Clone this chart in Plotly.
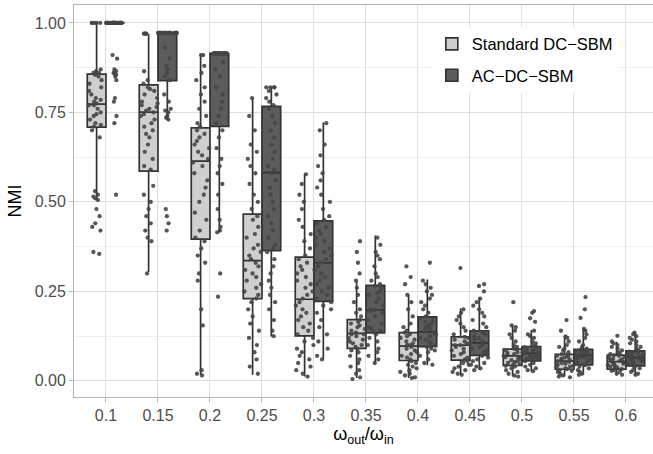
import plotly.graph_objects as go

FONT = "Liberation Sans, Arial, sans-serif"

categories = ["0.1", "0.15", "0.2", "0.25", "0.3", "0.35", "0.4", "0.45", "0.5", "0.55", "0.6"]
series_names = ["Standard DC\u2212SBM", "AC\u2212DC\u2212SBM"]
y_tick_vals = [0, 0.25, 0.5, 0.75, 1.0]
y_tick_text = ["0.00", "0.25", "0.50", "0.75", "1.00"]

# box statistics
std_q1 = [0.709, 0.586, 0.396, 0.230, 0.126, 0.091, 0.057, 0.058, 0.043, 0.0325, 0.033]
std_median = [0.773, 0.751, 0.614, 0.336, 0.228, 0.1325, 0.097, 0.100, 0.070, 0.055, 0.054]
std_q3 = [0.857, 0.827, 0.707, 0.466, 0.346, 0.171, 0.135, 0.123, 0.089, 0.074, 0.072]
std_low = [0.507, 0.304, 0.017, 0.017, 0.012, 0.008, 0.008, 0.017, 0.012, 0.012, 0.017]
std_high = [1.0, 0.970, 0.912, 0.790, 0.577, 0.279, 0.241, 0.202, 0.157, 0.125, 0.109]

ac_q1 = [1.0, 0.839, 0.711, 0.364, 0.222, 0.134, 0.0955, 0.071, 0.056, 0.045, 0.042]
ac_median = [1.0, 0.972, 0.915, 0.582, 0.330, 0.198, 0.137, 0.106, 0.077, 0.071, 0.065]
ac_q3 = [1.0, 0.972, 0.915, 0.767, 0.447, 0.267, 0.179, 0.140, 0.096, 0.088, 0.084]
ac_low = [1.0, 0.730, 0.415, 0.124, 0.061, 0.049, 0.044, 0.031, 0.027, 0.017, 0.017]
ac_high = [1.0, 0.972, 0.915, 0.822, 0.722, 0.406, 0.283, 0.232, 0.142, 0.146, 0.137]

# individual runs (estimated from the jittered dots), one list per category
std_points = [
    [1, 1, 1, 1, 1, .87, .865, .86, .86, .855, .85, .84, .83, .82, .81, .80, .79, .785, .78, .775,
     .77, .77, .76, .75, .745, .74, .73, .72, .715, .71, .70, .68, .53, .52, .515, .51, .505,
     .48, .46, .44, .43, .42, .36, .355],
    [.97, .97, .97, .97, .865, .84, .83, .82, .815, .81, .80, .79, .78, .775, .77, .765, .76, .755,
     .75, .745, .74, .73, .72, .71, .70, .69, .68, .66, .64, .62, .60, .59, .545, .52, .50, .48,
     .46, .44, .42, .40, .39, .30],
    [.91, .91, .88, .86, .84, .82, .80, .78, .76, .74, .72, .71, .70, .69, .68, .67, .66, .65, .64,
     .63, .62, .61, .60, .58, .56, .54, .52, .50, .47, .45, .42, .40, .39, .37, .35, .33, .30, .28,
     .20, .155, .03, .02, .015],
    [.79, .74, .70, .66, .64, .62, .60, .58, .55, .52, .50, .48, .46, .45, .43, .41, .40, .38, .37,
     .36, .35, .34, .33, .32, .31, .30, .29, .28, .27, .26, .25, .24, .23, .22, .20, .18, .16, .14,
     .12, .10, .08, .06, .04, .02],
    [.577, .55, .52, .50, .48, .45, .43, .41, .39, .37, .35, .34, .33, .32, .31, .30, .29, .28, .27,
     .26, .25, .24, .23, .22, .21, .20, .19, .18, .17, .16, .15, .14, .13, .12, .11, .10, .09, .08,
     .07, .06, .05, .04, .03, .02, .012],
    [.39, .36, .33, .30, .28, .26, .24, .22, .20, .19, .18, .17, .165, .16, .155, .15, .145, .14,
     .135, .13, .13, .125, .12, .115, .11, .105, .10, .095, .09, .085, .08, .07, .06, .05, .04,
     .03, .02, .01, .005],
    [.32, .29, .27, .24, .22, .20, .18, .16, .15, .14, .135, .13, .125, .12, .115, .11, .105, .10,
     .10, .095, .09, .085, .08, .075, .07, .065, .06, .055, .05, .045, .04, .035, .03, .025, .02,
     .015, .01, .008],
    [.315, .20, .19, .18, .17, .16, .15, .14, .13, .123, .12, .115, .11, .105, .10, .10, .095, .09,
     .085, .08, .075, .07, .065, .06, .055, .05, .045, .04, .035, .03, .025, .02, .017],
    [.22, .155, .15, .14, .13, .12, .11, .10, .095, .09, .088, .085, .08, .078, .075, .072, .07,
     .068, .066, .064, .06, .058, .055, .052, .05, .047, .045, .042, .04, .035, .03, .025, .02,
     .015, .012],
    [.17, .14, .124, .12, .11, .10, .095, .09, .085, .08, .075, .072, .07, .068, .065, .062, .06,
     .058, .055, .053, .05, .048, .045, .042, .04, .038, .035, .033, .03, .028, .025, .02, .015,
     .012, .01],
    [.126, .11, .105, .10, .095, .09, .085, .08, .078, .075, .072, .07, .068, .066, .064, .062, .06,
     .058, .056, .054, .052, .05, .048, .046, .044, .042, .04, .038, .035, .033, .03, .028, .025,
     .02, .017],
]

ac_points = [
    [1, 1, 1, 1, 1, 1, 1, 1, 1, 1, 1, 1, 1, 1, 1, 1, 1, 1, 1, 1, 1, 1, 1, 1, 1, 1, 1, 1, 1, 1,
     .91, .90, .87, .865, .86, .86, .855, .85, .84, .79, .78, .74, .72, .52],
    [.972, .972, .972, .972, .972, .972, .972, .972, .972, .972, .972, .972, .972, .972, .972,
     .972, .972, .972, .972, .972, .972, .972, .93, .90, .88, .87, .86, .85, .84, .80, .78, .76,
     .755, .75, .74, .735, .73, .48, .46, .44, .42],
    [.915, .915, .915, .915, .915, .915, .915, .915, .915, .915, .915, .915, .915, .915, .915,
     .915, .915, .915, .915, .915, .915, .915, .89, .87, .85, .82, .80, .78, .76, .74, .72, .70,
     .68, .65, .62, .60, .58, .55, .52, .48, .45, .43, .42, .415, .30, .235],
    [.82, .82, .82, .82, .81, .80, .79, .78, .77, .76, .74, .72, .70, .68, .66, .64, .62, .60, .59,
     .58, .56, .54, .52, .50, .48, .46, .44, .42, .40, .38, .37, .36, .34, .32, .30, .28, .26, .24,
     .22, .20, .17, .14, .125],
    [.72, .70, .66, .63, .60, .58, .56, .54, .52, .50, .48, .46, .45, .44, .43, .42, .41, .40, .39,
     .38, .37, .36, .35, .34, .33, .32, .31, .30, .29, .28, .27, .26, .25, .24, .23, .22, .21, .20,
     .19, .17, .15, .13, .11, .09, .07, .06],
    [.40, .38, .36, .35, .34, .32, .30, .29, .28, .27, .265, .26, .25, .245, .24, .23, .22, .21,
     .20, .198, .195, .19, .18, .17, .16, .15, .145, .14, .135, .13, .12, .11, .10, .09, .08, .07,
     .06, .05],
    [.33, .28, .27, .26, .25, .24, .23, .22, .21, .20, .19, .18, .175, .17, .165, .16, .155, .15,
     .145, .14, .135, .13, .125, .12, .115, .11, .105, .10, .095, .09, .085, .08, .07, .06, .05,
     .045],
    [.27, .265, .25, .23, .22, .21, .20, .19, .18, .17, .16, .15, .14, .135, .13, .125, .12, .115,
     .11, .105, .10, .095, .09, .085, .08, .075, .07, .065, .06, .055, .05, .045, .04, .035, .03],
    [.195, .19, .175, .165, .14, .13, .125, .12, .11, .105, .10, .096, .094, .09, .088, .085, .082,
     .08, .078, .077, .075, .072, .07, .068, .065, .062, .06, .058, .055, .05, .045, .04, .035,
     .03, .027],
    [.234, .20, .176, .145, .14, .13, .12, .11, .10, .095, .09, .088, .086, .084, .082, .08, .078,
     .075, .072, .071, .07, .068, .065, .062, .06, .055, .05, .046, .044, .04, .035, .03, .025,
     .02, .017],
    [.135, .13, .125, .12, .115, .11, .105, .10, .095, .09, .085, .082, .08, .078, .076, .074, .072,
     .07, .068, .066, .064, .062, .06, .058, .055, .052, .05, .047, .045, .042, .04, .035, .03,
     .025, .02, .017],
]

fills = ["#cfcfcf", "#5c5c5c"]
edge = "#333333"
dot = "#454545"

fig = go.Figure()

stats = [
    (std_q1, std_median, std_q3, std_low, std_high),
    (ac_q1, ac_median, ac_q3, ac_low, ac_high),
]
groups = ["std", "ac"]

for i, (q1, med, q3, lo, hi) in enumerate(stats):
    fig.add_trace(go.Box(
        x=categories, q1=q1, median=med, q3=q3, lowerfence=lo, upperfence=hi,
        name=series_names[i], legendgroup=groups[i], offsetgroup=groups[i],
        boxpoints=False, fillcolor=fills[i], line=dict(color=edge, width=1.7),
        whiskerwidth=0, hoverinfo="skip",
    ))

for i, pts in enumerate([std_points, ac_points]):
    xs, ys = [], []
    for cat, vals in zip(categories, pts):
        xs += [cat] * len(vals)
        ys += vals
    fig.add_trace(go.Box(
        x=xs, y=ys, name=series_names[i] + " runs", legendgroup=groups[i],
        offsetgroup=groups[i], showlegend=False,
        boxpoints="all", jitter=1, pointpos=0,
        fillcolor="rgba(0,0,0,0)", line=dict(color="rgba(0,0,0,0)", width=0),
        marker=dict(color=dot, size=4.3, opacity=0.9),
        whiskerwidth=0, hoverinfo="skip",
    ))

fig.update_layout(
    width=653, height=454,
    margin=dict(l=74, r=0, t=5, b=57, autoexpand=False),
    paper_bgcolor="white", plot_bgcolor="white",
    boxmode="group", boxgap=0.28, boxgroupgap=0,
    font=dict(family=FONT, size=16, color="#4d4d4d"),
    legend=dict(x=0.618, y=0.945, xanchor="left", yanchor="top", bgcolor="white",
                font=dict(family=FONT, size=16.5, color="black"), tracegroupgap=7),
    xaxis=dict(
        type="category", categoryorder="array", categoryarray=categories,
        range=[-0.615, 10.52], automargin=False,
        showgrid=True, gridcolor="#dedede", gridwidth=1,
        showline=True, linecolor="#b3b3b3", linewidth=1, mirror=True,
        ticks="outside", ticklen=4, tickcolor="#b3b3b3",
        tickfont=dict(family=FONT, size=16, color="#4d4d4d"),
        title=dict(text="\u03c9<sub>out</sub>/\u03c9<sub>in</sub>",
                   font=dict(family=FONT, size=18, color="black"), standoff=4),
        zeroline=False,
    ),
    yaxis=dict(
        range=[-0.045, 1.05], tickvals=y_tick_vals, ticktext=y_tick_text, automargin=False,
        showgrid=True, gridcolor="#dedede", gridwidth=1,
        minor=dict(tickvals=[0.125, 0.375, 0.625, 0.875], showgrid=True,
                   gridcolor="#eeeeee", gridwidth=0.6, ticks=""),
        showline=True, linecolor="#b3b3b3", linewidth=1,
        ticks="outside", ticklen=4, tickcolor="#b3b3b3",
        tickfont=dict(family=FONT, size=16, color="#4d4d4d"),
        title=dict(text="NMI", font=dict(family=FONT, size=18, color="black"), standoff=8),
        zeroline=False,
    ),
)

fig.write_html(
    "out.html",
    config={"displayModeBar": False},
    post_script="document.body.style.margin='0';document.body.style.overflow='hidden';",
)
